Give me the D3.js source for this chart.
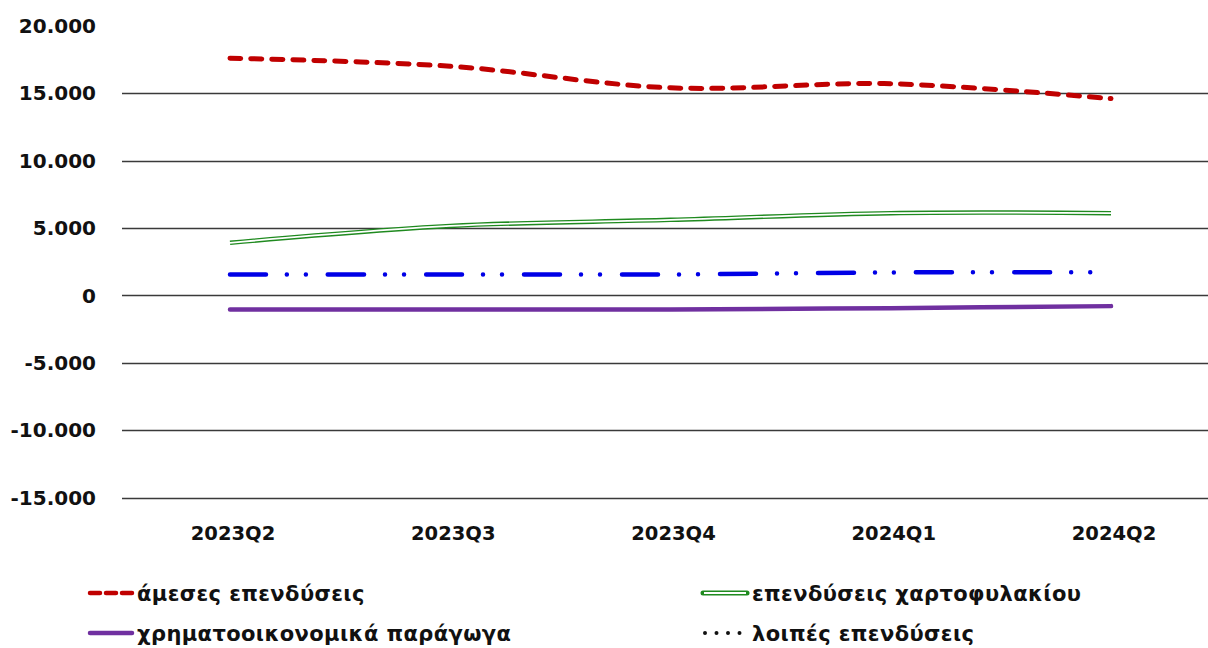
<!DOCTYPE html>
<html><head><meta charset="utf-8">
<script src="https://cdn.jsdelivr.net/npm/d3@7"></script>
<style>
html,body{margin:0;padding:0;background:#fff;}
svg{display:block;font-family:"DejaVu Sans",Verdana,sans-serif;}
</style></head>
<body><svg id="c" width="1208" height="648"></svg>
<script>
const categories = ["2023Q2","2023Q3","2023Q4","2024Q1","2024Q2"];
const direct     = [17600, 17000, 15400, 15700, 14600];
const portfolio  = [3900, 5150, 5600, 6100, 6100];
const derivatives= [-1050, -1050, -1050, -950, -800];
const other      = [1550, 1550, 1550, 1700, 1720];
const yTicks     = [-15000,-10000,-5000,0,5000,10000,15000,20000];
const seriesNames= ["άμεσες επενδύσεις","επενδύσεις χαρτοφυλακίου","χρηματοοικονομικά παράγωγα","λοιπές επενδύσεις"];

const svg = d3.select("#c");
const x = d3.scalePoint().domain(categories).range([230, 1111]);
const y = d3.scaleLinear().domain([-15000, 20000]).range([497.5, 25.8]);
const fmt = v => d3.format(",")(v).replace(/,/g, ".").replace("−","-");

// gridlines
svg.append("g").selectAll("line").data(yTicks.filter(t => t !== 20000)).join("line")
  .attr("x1", 122).attr("x2", 1208)
  .attr("y1", d => Math.round(y(d)) + 0.5).attr("y2", d => Math.round(y(d)) + 0.5)
  .attr("stroke", "#3a3a3a").attr("stroke-width", 1.6);

// y labels
svg.append("g").selectAll("text").data(yTicks).join("text")
  .attr("x", 96).attr("y", d => y(d)).attr("dy", "0.36em")
  .attr("text-anchor", "end").attr("font-size", 20).attr("font-weight", "bold")
  .attr("fill", "#111").text(d => fmt(d));

// x labels
svg.append("g").selectAll("text").data(categories).join("text")
  .attr("x", d => x(d) + 3).attr("y", 540)
  .attr("text-anchor", "middle").attr("font-size", 19.5).attr("font-weight", "bold")
  .attr("fill", "#111").text(d => d);

const line = d3.line().x((d, i) => x(categories[i])).y(d => y(d)).curve(d3.curveCatmullRom.alpha(0.5));

// derivatives
svg.append("path").datum(derivatives).attr("d", line)
  .attr("fill", "none").attr("stroke", "#7030a0").attr("stroke-width", 4.5).attr("stroke-linecap", "round");
// other
svg.append("path").datum(other).attr("d", line)
  .attr("fill", "none").attr("stroke", "#0000e6").attr("stroke-width", 4.5).attr("stroke-linecap", "round")
  .attr("stroke-dasharray", "36 21 0 19 0 22");
// portfolio (double line)
svg.append("path").datum(portfolio).attr("d", line)
  .attr("fill", "none").attr("stroke", "#1f8a1f").attr("stroke-width", 4.5).attr("stroke-linejoin", "round");
svg.append("path").datum(portfolio).attr("d", line)
  .attr("fill", "none").attr("stroke", "#fff").attr("stroke-width", 1.8);
// direct
svg.append("path").datum(direct).attr("d", line)
  .attr("fill", "none").attr("stroke", "#c00000").attr("stroke-width", 5).attr("stroke-linecap", "round")
  .attr("stroke-dasharray", "11 10");

// legend
const lg = svg.append("g");
const legendItems = [
  {name: seriesNames[0], x: 88, y: 593},
  {name: seriesNames[1], x: 703, y: 593},
  {name: seriesNames[2], x: 88, y: 633},
  {name: seriesNames[3], x: 703, y: 633}
];
// symbols
lg.append("line").attr("x1", legendItems[0].x + 2).attr("x2", legendItems[0].x + 45).attr("y1", 593).attr("y2", 593)
  .attr("stroke", "#c00000").attr("stroke-width", 4.5).attr("stroke-linecap", "round").attr("stroke-dasharray", "10 6 10 6 10 7 0 20");
lg.append("line").attr("x1", legendItems[1].x).attr("x2", legendItems[1].x + 44).attr("y1", 593).attr("y2", 593)
  .attr("stroke", "#1f8a1f").attr("stroke-width", 5).attr("stroke-linecap", "round");
lg.append("line").attr("x1", legendItems[1].x + 1).attr("x2", legendItems[1].x + 43).attr("y1", 593).attr("y2", 593)
  .attr("stroke", "#fff").attr("stroke-width", 2);
lg.append("line").attr("x1", legendItems[2].x + 2).attr("x2", legendItems[2].x + 44).attr("y1", 633).attr("y2", 633)
  .attr("stroke", "#7030a0").attr("stroke-width", 4.5).attr("stroke-linecap", "round");
lg.append("line").attr("x1", legendItems[3].x + 2).attr("x2", legendItems[3].x + 44).attr("y1", 633).attr("y2", 633)
  .attr("stroke", "#111").attr("stroke-width", 4).attr("stroke-linecap", "round").attr("stroke-dasharray", "0 11.5");
lg.selectAll("text").data(legendItems).join("text")
  .attr("x", d => d.x + 49).attr("y", d => d.y + 8)
  .attr("font-size", 21).attr("font-weight", "bold").attr("letter-spacing", 0.4).attr("fill", "#111")
  .text(d => d.name);
</script></body></html>
